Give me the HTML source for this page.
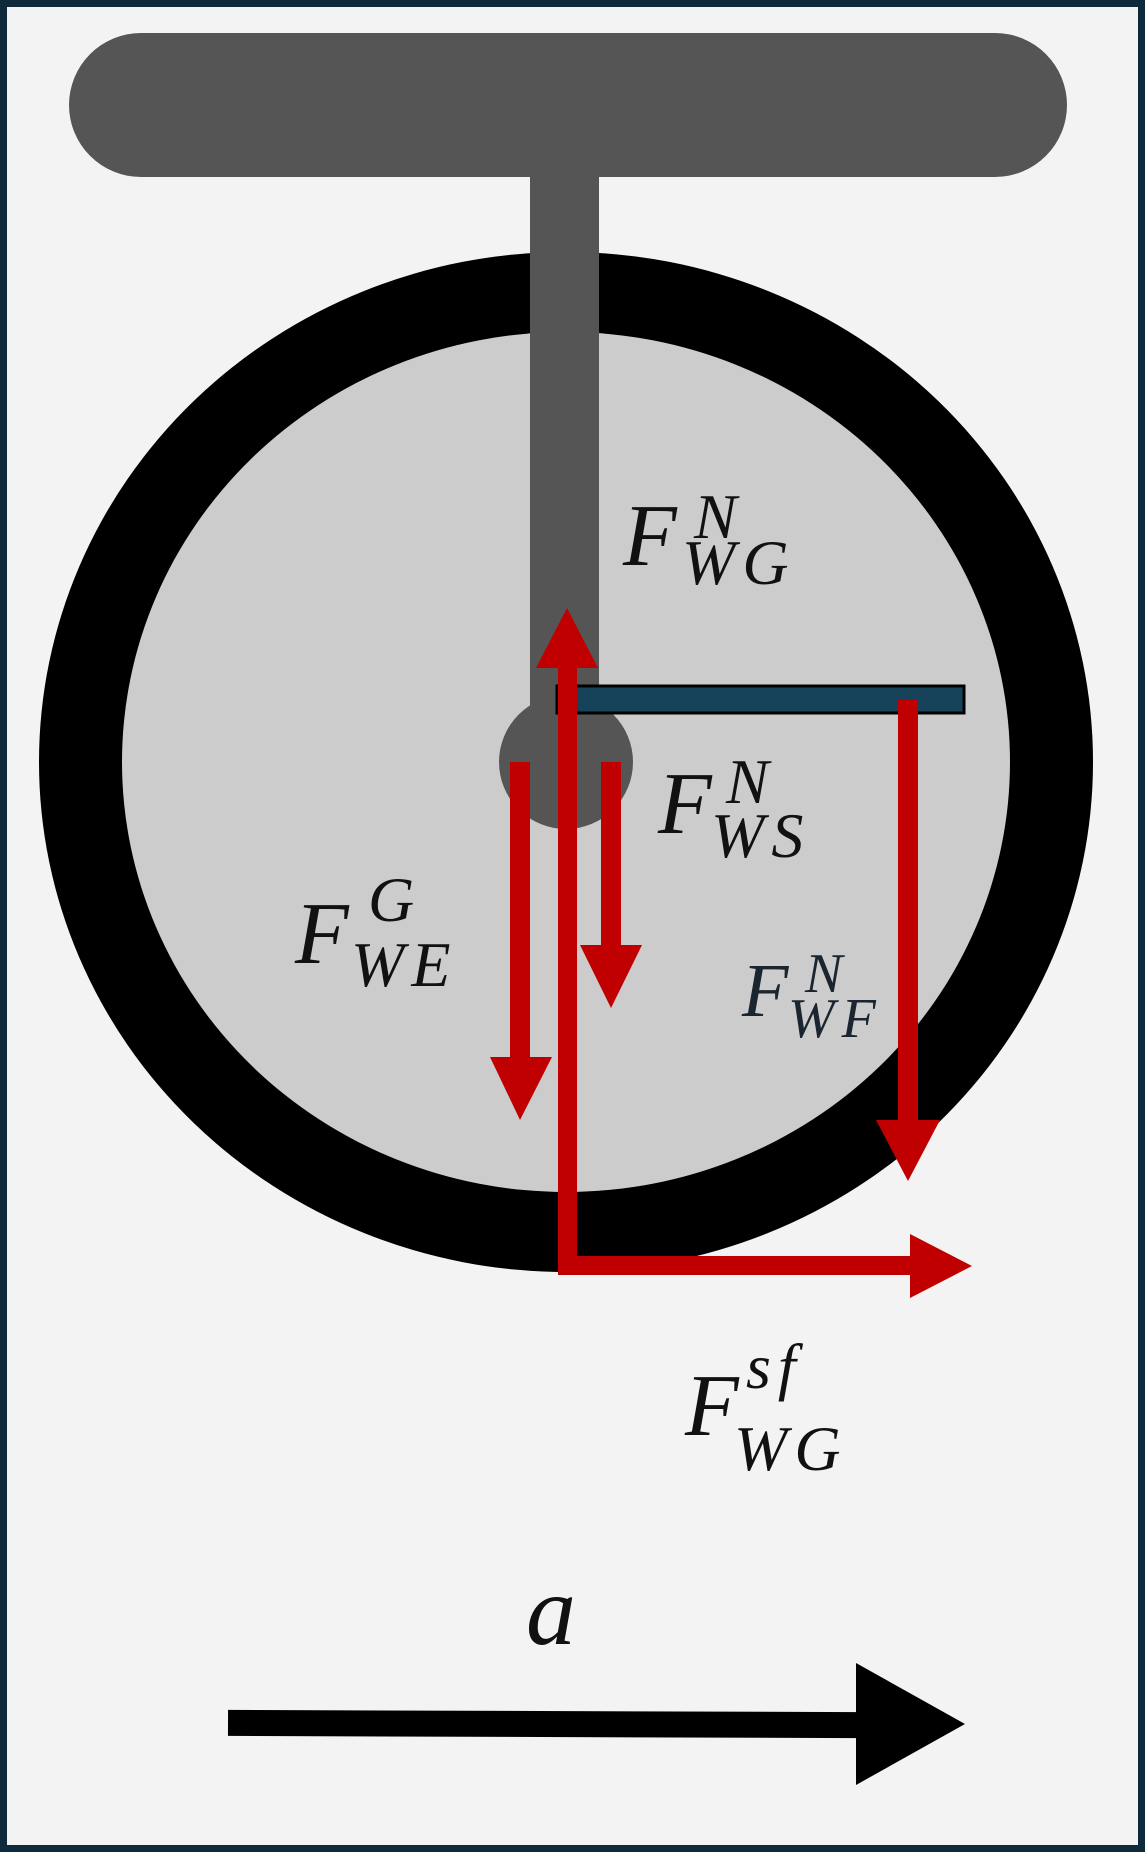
<!DOCTYPE html>
<html><head><meta charset="utf-8"><style>
html,body{margin:0;padding:0;background:#f3f3f3}
svg{display:block}
text{font-family:"Liberation Serif",serif;font-style:italic;fill:#111}
.s{letter-spacing:7px}
</style></head><body>
<svg width="1145" height="1852" viewBox="0 0 1145 1852" xmlns="http://www.w3.org/2000/svg">
<rect x="3.5" y="3.5" width="1138" height="1845" fill="#f3f3f3" stroke="#0f2a3a" stroke-width="7"/>
<rect x="69" y="33" width="998" height="144" rx="72" fill="#555"/>
<ellipse cx="566" cy="762" rx="527" ry="510" fill="#000"/>
<ellipse cx="566" cy="762" rx="444" ry="430" fill="#cccccc"/>
<rect x="530" y="170" width="69" height="540" fill="#555"/>
<circle cx="566" cy="762" r="67" fill="#555"/>
<rect x="557" y="686" width="407" height="27" fill="#17435a" stroke="#000" stroke-width="3"/>
<g fill="#c00000">
<rect x="558" y="660" width="19" height="615"/>
<polygon points="567,608 536,668 598,668"/>
<rect x="558" y="1256" width="355" height="19"/>
<polygon points="972,1266 910,1234 910,1298"/>
<rect x="510" y="762" width="20" height="300"/>
<polygon points="520,1120 490,1057 552,1057"/>
<rect x="601" y="762" width="20" height="186"/>
<polygon points="611,1008 580,945 642,945"/>
<rect x="898" y="700" width="20" height="424"/>
<polygon points="908,1181 876,1120 940,1120"/>
</g>
<rect x="228" y="1711" width="632" height="26" fill="#000" transform="rotate(0.2 540 1724)"/>
<polygon points="965,1724 856,1663 856,1785" fill="#000"/>
<text x="623" y="565" font-size="88">F</text>
<text class="s" x="682" y="584" font-size="64">WG</text>
<text x="694" y="538" font-size="64">N</text>
<text x="658" y="833" font-size="88">F</text>
<text class="s" x="711" y="857" font-size="64">WS</text>
<text x="726" y="803" font-size="64">N</text>
<text x="295" y="963" font-size="88">F</text>
<text class="s" x="351" y="986" font-size="64">WE</text>
<text x="368" y="921" font-size="64">G</text>
<text x="742" y="1016" font-size="76" style="fill:#1a2530">F</text>
<text class="s" x="788" y="1037" font-size="56" style="fill:#1a2530">WF</text>
<text x="805" y="992" font-size="56" style="fill:#1a2530">N</text>
<text x="685" y="1435" font-size="88">F</text>
<text class="s" x="734" y="1470" font-size="64">WG</text>
<text class="s" x="746" y="1388" font-size="64">sf</text>
<text x="526" y="1644" font-size="100">a</text>
</svg>
</body></html>
